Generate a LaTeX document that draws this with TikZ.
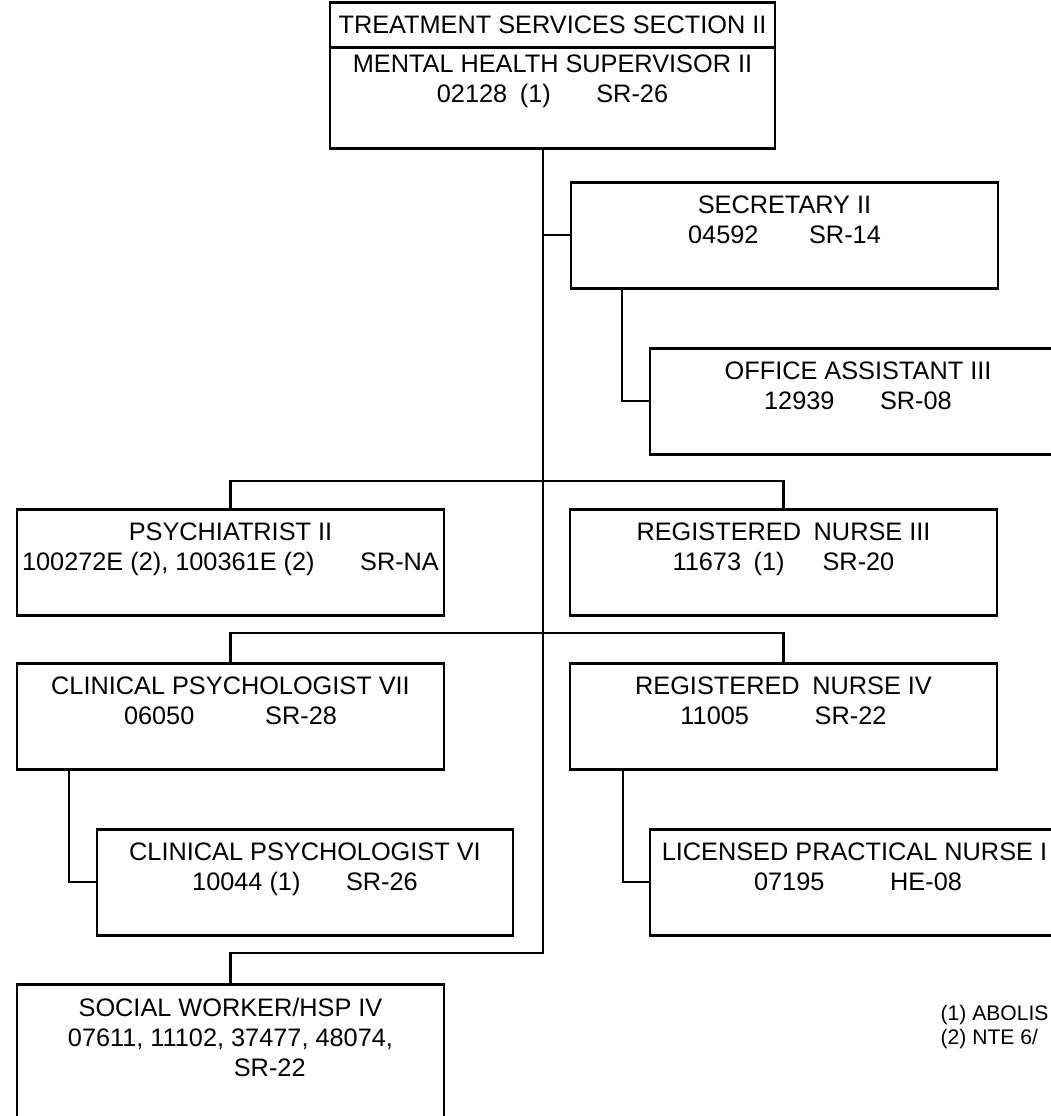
\documentclass[tikz,border=0pt]{standalone}
\usepackage{fontspec}
\setmainfont{Liberation Sans}
\usetikzlibrary{positioning}
\usetikzlibrary{calc}
\tikzset{
  post/.style={draw, line width=0.85pt, minimum height=1.06cm, inner sep=0pt, outer sep=0pt, anchor=north west},
  wide/.style={post, minimum width=4.27cm},
  narrow/.style={post, minimum width=4.16cm},
  txt/.style={inner sep=0pt, align=center},
  link/.style={line width=0.75pt}
}

\begin{document}
\begin{tikzpicture}[font=\fontsize{7.2}{8.55}\selectfont]
  \clip (0,0) rectangle (10.51,-11.16);

  \node [post, minimum width=4.45cm, minimum height=0.45cm] (head) at (3.30,-0.02) {TREATMENT SERVICES SECTION II};
  \node [post, minimum width=4.45cm, minimum height=1.01cm, anchor=north, below=0pt of head] (sup) {};
  \node [txt, below=0.07 of sup.north] (sup-t) {MENTAL HEALTH SUPERVISOR II\\02128\enspace(1)\hspace{1.8em}SR-26};

  \node [wide] (sec) at (5.71,-1.82) {};
  \node [txt, below=0.13 of sec.north] (sec-t) {SECRETARY II\\04592\hspace{2em}SR-14};
  \node [narrow] (off) at (6.50,-3.48) {};
  \node [txt, below=0.13 of off.north] (off-t) {OFFICE ASSISTANT III\\12939\hspace{1.8em}SR-08};

  \node [wide] (psy) at (0.17,-5.09) {};
  \node [txt, below=0.13 of psy.north] (psy-t) {PSYCHIATRIST II\\100272E (2), 100361E (2)\hspace{1.8em}SR-NA};
  \node [wide] (rn3) at (5.70,-5.09) {};
  \node [txt, below=0.13 of rn3.north] (rn3-t) {REGISTERED\enspace NURSE III\\11673\enspace(1)\hspace{1.5em}SR-20};

  \node [wide] (cp7) at (0.17,-6.63) {};
  \node [txt, below=0.13 of cp7.north] (cp7-t) {CLINICAL PSYCHOLOGIST VII\\06050\hspace{2.8em}SR-28};
  \node [wide] (rn4) at (5.70,-6.63) {};
  \node [txt, below=0.13 of rn4.north] (rn4-t) {REGISTERED\enspace NURSE IV\\11005\hspace{2.6em}SR-22};

  \node [narrow] (cp6) at (0.97,-8.29) {};
  \node [txt, below=0.13 of cp6.north] (cp6-t) {CLINICAL PSYCHOLOGIST VI\\10044 (1)\hspace{1.8em}SR-26};
  \node [narrow] (lpn) at (6.50,-8.29) {};
  \node [txt, below=0.13 of lpn.north] (lpn-t) {LICENSED PRACTICAL NURSE I\phantom{I}\\07195\hspace{2.6em}HE-08};

  \node [wide, minimum height=1.5cm] (sw) at (0.17,-9.84) {};
  \node [txt, below=0.13 of sw.north] (sw-t) {SOCIAL WORKER/HSP IV\\07611, 11102, 37477, 48074,\\\hspace*{3.1em}SR-22};

  \node [anchor=north west, inner sep=0pt, align=left, font=\fontsize{6}{6.8}\selectfont] (notes) at (9.40,-10.05) {(1) ABOLIS\\(2) NTE 6/};

  \coordinate (tk) at (5.43,-1.48);
  \coordinate (tb) at (5.43,-9.53);
  \draw [link] (tk) -- (tb) -| (sw.north);
  \draw [link] (sec.west) -- (sec.west -| tk);
  \draw [link] ($(sec.south west)+(0.51,0)$) |- (off.west);
  \draw [link] (psy.north) -- ++(0,0.28) -| (rn3.north);
  \draw [link] (cp7.north) -- ++(0,0.30) -| (rn4.north);
  \draw [link] ($(cp7.south west)+(0.52,0)$) |- (cp6.west);
  \draw [link] ($(rn4.south west)+(0.53,0)$) |- (lpn.west);
\end{tikzpicture}
\end{document}
